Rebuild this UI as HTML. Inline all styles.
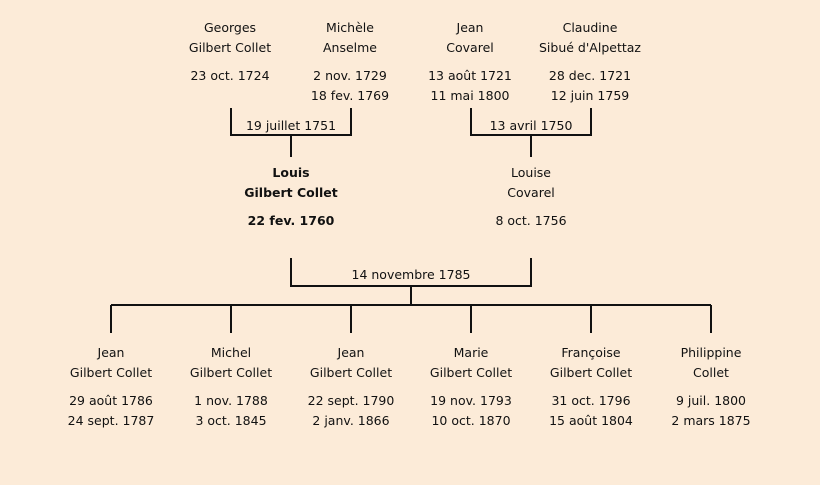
<!DOCTYPE html>
<html><head><meta charset="utf-8"><style>
body{margin:0;width:820px;height:485px;background:#fcebd8;position:relative;overflow:hidden;font-family:"DejaVu Sans","Liberation Sans",sans-serif;font-size:12.5px;color:#111}
.t{position:absolute;width:160px;margin-left:-80px;text-align:center;line-height:14px;white-space:nowrap;transform:translateY(1px)}
.b{font-weight:bold}
svg{position:absolute;left:0;top:0}
</style></head><body>
<svg width="820" height="485"><g stroke="#111" stroke-width="2" fill="none">
<path d="M231 108V135H351V108M291 135V157"/>
<path d="M471 108V135H591V108M531 135V157"/>
<path d="M291 258V286H531V258M411 286V305M111 305H711"/>
<path d="M111 305V333M231 305V333M351 305V333M471 305V333M591 305V333M711 305V333"/>
</g></svg>
<div class="t" style="left:230px;top:20px">Georges</div><div class="t" style="left:230px;top:40px">Gilbert Collet</div><div class="t" style="left:230px;top:68px">23 oct. 1724</div>
<div class="t" style="left:350px;top:20px">Michèle</div><div class="t" style="left:350px;top:40px">Anselme</div><div class="t" style="left:350px;top:68px">2 nov. 1729</div><div class="t" style="left:350px;top:88px">18 fev. 1769</div>
<div class="t" style="left:470px;top:20px">Jean</div><div class="t" style="left:470px;top:40px">Covarel</div><div class="t" style="left:470px;top:68px">13 août 1721</div><div class="t" style="left:470px;top:88px">11 mai 1800</div>
<div class="t" style="left:590px;top:20px">Claudine</div><div class="t" style="left:590px;top:40px">Sibué d'Alpettaz</div><div class="t" style="left:590px;top:68px">28 dec. 1721</div><div class="t" style="left:590px;top:88px">12 juin 1759</div>
<div class="t" style="left:291px;top:118px">19 juillet 1751</div>
<div class="t" style="left:531px;top:118px">13 avril 1750</div>
<div class="t b" style="left:291px;top:165px">Louis</div><div class="t b" style="left:291px;top:185px">Gilbert Collet</div><div class="t b" style="left:291px;top:213px">22 fev. 1760</div>
<div class="t" style="left:531px;top:165px">Louise</div><div class="t" style="left:531px;top:185px">Covarel</div><div class="t" style="left:531px;top:213px">8 oct. 1756</div>
<div class="t" style="left:411px;top:267px">14 novembre 1785</div>
<div class="t" style="left:111px;top:345px">Jean</div><div class="t" style="left:111px;top:365px">Gilbert Collet</div><div class="t" style="left:111px;top:393px">29 août 1786</div><div class="t" style="left:111px;top:413px">24 sept. 1787</div>
<div class="t" style="left:231px;top:345px">Michel</div><div class="t" style="left:231px;top:365px">Gilbert Collet</div><div class="t" style="left:231px;top:393px">1 nov. 1788</div><div class="t" style="left:231px;top:413px">3 oct. 1845</div>
<div class="t" style="left:351px;top:345px">Jean</div><div class="t" style="left:351px;top:365px">Gilbert Collet</div><div class="t" style="left:351px;top:393px">22 sept. 1790</div><div class="t" style="left:351px;top:413px">2 janv. 1866</div>
<div class="t" style="left:471px;top:345px">Marie</div><div class="t" style="left:471px;top:365px">Gilbert Collet</div><div class="t" style="left:471px;top:393px">19 nov. 1793</div><div class="t" style="left:471px;top:413px">10 oct. 1870</div>
<div class="t" style="left:591px;top:345px">Françoise</div><div class="t" style="left:591px;top:365px">Gilbert Collet</div><div class="t" style="left:591px;top:393px">31 oct. 1796</div><div class="t" style="left:591px;top:413px">15 août 1804</div>
<div class="t" style="left:711px;top:345px">Philippine</div><div class="t" style="left:711px;top:365px">Collet</div><div class="t" style="left:711px;top:393px">9 juil. 1800</div><div class="t" style="left:711px;top:413px">2 mars 1875</div>
</body></html>
